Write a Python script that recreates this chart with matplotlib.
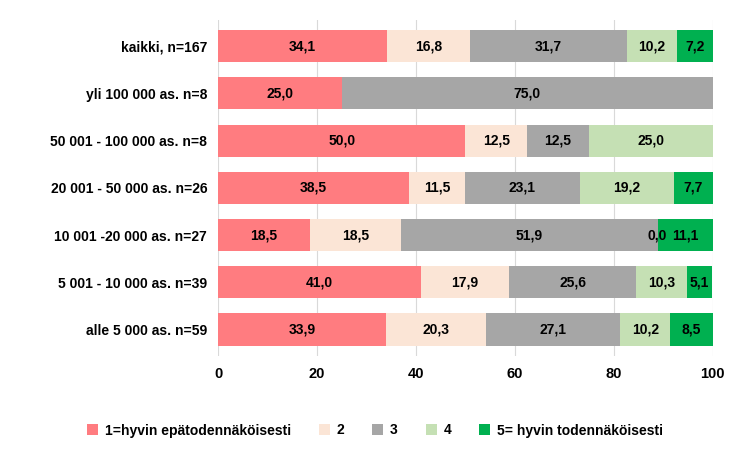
import matplotlib
matplotlib.use("Agg")
import matplotlib.pyplot as plt
import numpy as np

plt.rcParams["font.family"] = "Liberation Sans"

categories = ["kaikki, n=167", "yli 100 000 as. n=8", "50 001 - 100 000 as. n=8",
              "20 001 - 50 000 as. n=26", "10 001 -20 000 as. n=27",
              "5 001 - 10 000 as. n=39", "alle 5 000 as. n=59"]
series_names = ["1=hyvin epätodennäköisesti", "2", "3", "4", "5= hyvin todennäköisesti"]
s1 = [34.1, 25.0, 50.0, 38.5, 18.5, 41.0, 33.9]
s2 = [16.8, np.nan, 12.5, 11.5, 18.5, 17.9, 20.3]
s3 = [31.7, 75.0, 12.5, 23.1, 51.9, 25.6, 27.1]
s4 = [10.2, np.nan, 25.0, 19.2, 0.0, 10.3, 10.2]
s5 = [7.2, np.nan, np.nan, 7.7, 11.1, 5.1, 8.5]
colors = ["#FF7C80", "#FBE5D6", "#A6A6A6", "#C5E0B4", "#00B050"]

fig = plt.figure(figsize=(7.5, 4.5), dpi=100)
ax = fig.add_axes([0.291, 0.21, 0.659, 0.745])
y = np.arange(len(categories))[::-1]
left = np.zeros(len(categories))
for name, vals, c in zip(series_names, [s1, s2, s3, s4, s5], colors):
    v = np.array(vals, dtype=float)
    w = np.nan_to_num(v)
    ax.barh(y, w, left=left, height=0.68, color=c, label=name, zorder=3)
    for yi, li, vi in zip(y, left, v):
        if not np.isnan(vi):
            ax.text(li + vi / 2, yi, f"{vi:.1f}".replace(".", ","), ha="center", va="center",
                    fontsize=10, fontweight="bold", color="black", zorder=4)
    left += w

ax.set_xlim(0, 100)
ax.set_ylim(-0.55, len(categories) - 0.45)
ax.set_yticks(y)
ax.set_yticklabels(categories, fontsize=10, fontweight="bold")
ax.set_xticks([0, 20, 40, 60, 80, 100])
ax.tick_params(axis="x", labelsize=10.5, length=0, pad=8)
for lab in ax.get_xticklabels():
    lab.set_fontweight("bold")
ax.tick_params(axis="y", length=0, pad=8)
ax.grid(axis="x", color="#D9D9D9", linewidth=0.8, zorder=0)
for s in ax.spines.values():
    s.set_visible(False)
fig.legend(loc="lower center", bbox_to_anchor=(0.5, 0.0), ncol=5, frameon=False,
           prop={"size": 10, "weight": "bold"}, handlelength=0.8, handleheight=0.8,
           columnspacing=2.0, handletextpad=0.5)
fig.savefig("out.png", dpi=100)
